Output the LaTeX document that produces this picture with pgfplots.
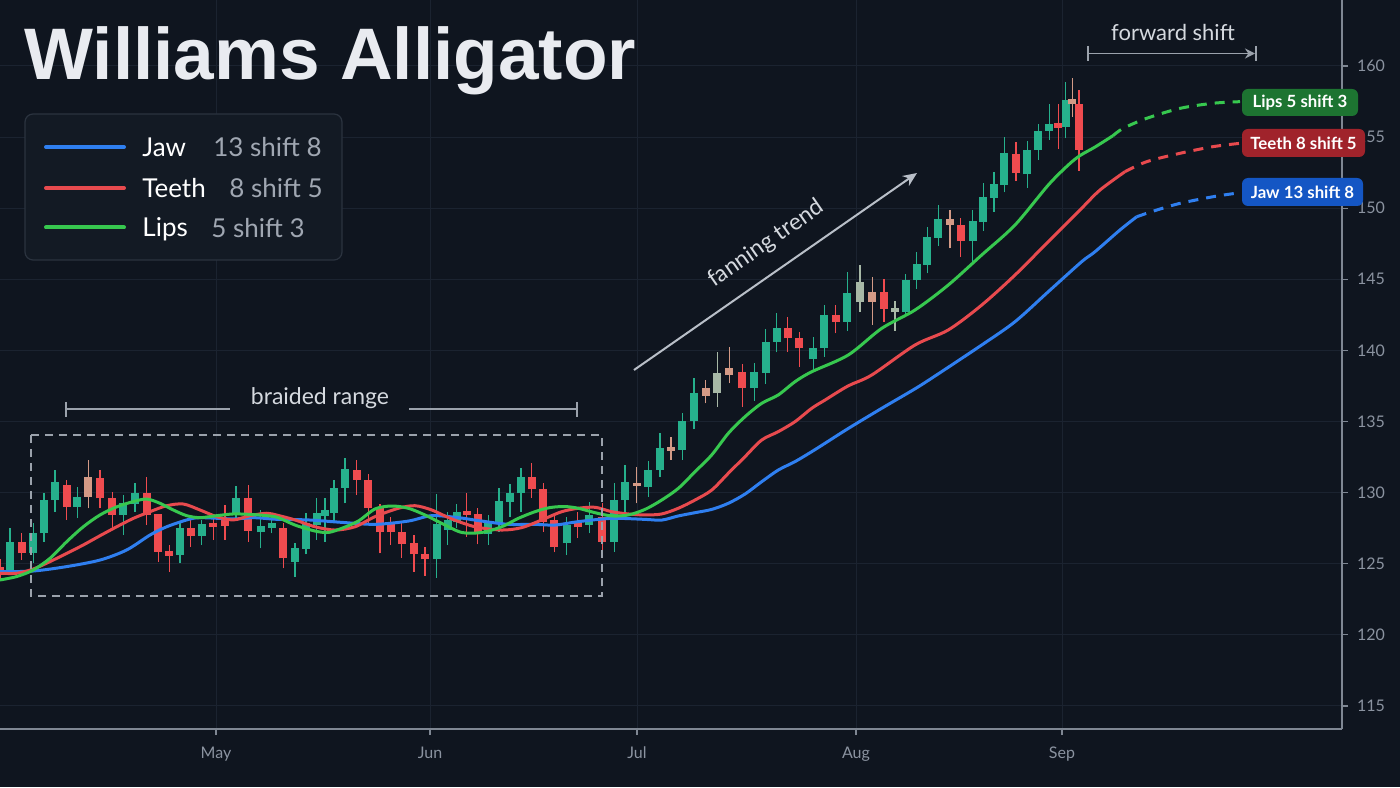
\documentclass[border=0pt]{standalone}
\usepackage{fontspec}
\setmainfont{Lato}
\newfontfamily\titlefont{Liberation Sans}
\usepackage{pgfplots}
\pgfplotsset{compat=1.18}
\usepackage{pgfplotstable}
\usetikzlibrary{arrows.meta}

\definecolor{bg}{HTML}{0F151F}
\definecolor{gridc}{HTML}{1B2330}
\definecolor{axc}{HTML}{7F8793}
\definecolor{tickc}{HTML}{8B93A0}
\definecolor{cgreen}{HTML}{26B08C}
\definecolor{cred}{HTML}{EF4B4F}
\definecolor{ctan}{HTML}{D49A86}
\definecolor{csage}{HTML}{A7B8A6}
\definecolor{jaw}{HTML}{2F7FF0}
\definecolor{teeth}{HTML}{E84A4E}
\definecolor{lips}{HTML}{37C84F}
\definecolor{titlec}{HTML}{E9EBF0}
\definecolor{legbg}{HTML}{131A24}
\definecolor{legbd}{HTML}{2B333F}
\definecolor{leggray}{HTML}{A0A7B2}
\definecolor{annc}{HTML}{9BA2AC}
\definecolor{anntext}{HTML}{D5D9DF}
\definecolor{arrowc}{HTML}{B9BFC8}
\definecolor{lipsbox}{HTML}{1D7431}
\definecolor{teethbox}{HTML}{A0232B}
\definecolor{jawbox}{HTML}{1456C4}

% candles: x (position) open high low close
\pgfplotstableread{
x o h l c
10 124.44 127.5 124.2 126.55
33.3 125.73 127.84 125.03 127.14
44 127.14 129.95 126.55 129.48
55 129.48 131.6 128.66 130.77
77.3 129.01 130.42 128.2 129.72
123.3 128.43 129.83 127.02 129.25
135 129.18 130.65 128.66 129.99
180 125.61 127.96 125.03 127.49
201.7 126.97 128.08 126.32 127.77
236 128.54 130.49 128.08 129.65
260.7 127.2 128.78 126.08 127.65
271.7 127.54 128.55 127.14 127.84
295 125.15 126.43 124.09 126.08
306 126.04 128.55 125.66 127.84
316.7 127.72 129.6 126.67 128.55
325 128.36 129.65 126.55 128.76
334 128.55 130.89 127.84 130.35
345 130.35 132.41 129.25 131.66
436.7 125.31 129.88 124.02 127.8
447.7 127.37 128.66 126.32 128.08
456.7 127.91 129.18 127.49 128.66
488.3 127.07 128.43 126.32 127.84
499 127.84 130.35 127.26 129.41
510 129.37 130.58 128.31 129.95
521 129.95 131.71 128.66 131.08
566.7 126.43 128.3 125.6 127.72
589.3 127.72 129.37 127.14 128.43
614.3 126.55 130.65 125.85 129.48
625 129.48 131.94 128.66 130.72
648.3 130.42 132.25 129.72 131.59
660 131.59 134.17 131.12 133.16
682.3 133.0 135.62 132.3 135.06
694 135.06 138.04 134.45 137.03
754.3 137.33 139.09 136.47 138.46
765.7 138.44 141.48 137.64 140.6
776.7 140.6 142.66 139.87 141.55
813.3 139.37 140.92 138.51 140.15
824.3 140.15 143.19 139.56 142.49
847.3 142.02 145.54 141.37 144.01
905.7 142.72 145.35 142.44 144.95
916.7 144.95 146.94 144.32 146.05
927.3 146.0 148.7 145.42 148.0
938.3 147.93 150.23 147.37 149.24
972.7 147.69 149.87 146.24 149.12
983.3 149.05 151.8 148.4 150.81
994 150.7 152.52 149.76 151.7
1004.3 151.63 154.98 151.12 153.86
1027.3 152.38 154.73 151.44 154.09
1038.3 154.09 155.9 153.39 155.43
1049.3 155.43 157.3 154.8 155.9
1065.7 155.73 158.9 154.91 157.61
}\greentab

\pgfplotstableread{
x o h l c
0 124.8 125.3 123.9 124.4
21.7 126.55 127.14 125.26 125.73
66.7 130.54 130.9 128.08 129.01
100 131.0 131.6 128.9 129.6
112.3 129.6 130.07 127.37 128.43
146.7 129.95 131.08 127.72 128.43
158.3 128.47 128.5 125.15 125.85
169.3 125.9 126.32 124.44 125.57
190.7 127.49 128.19 126.2 126.97
213.3 127.89 128.31 126.67 127.61
225 128.24 129.13 126.67 127.68
248.3 129.65 130.54 126.55 127.3
283.3 127.54 127.84 124.68 125.38
356.7 131.59 132.3 129.83 130.89
368.3 130.89 131.29 127.84 128.9
380 128.9 129.18 125.73 127.2
390.7 127.77 128.31 126.32 127.2
401.7 127.2 127.84 125.43 126.39
414 126.48 127.02 124.44 125.66
425 125.68 126.2 124.14 125.31
466.7 128.71 129.95 126.9 128.43
477.7 128.47 128.94 126.36 127.14
531.7 131.08 132.06 129.65 130.23
543.3 130.23 130.65 127.26 127.91
554.3 128.1 128.4 125.8 126.2
577.7 128.03 128.66 126.8 127.56
602.3 128.31 129.25 125.38 126.55
742.3 138.5 139.04 136.04 137.33
787.7 141.55 142.37 139.91 140.85
799.3 140.85 141.32 138.86 140.15
835.7 142.49 143.19 141.2 142.02
884 144.13 145.02 142.02 142.9
960.7 148.82 149.33 146.59 147.69
1016 153.81 154.68 151.91 152.5
1058.3 156.0 157.3 154.16 155.66
1079 157.3 158.31 152.62 154.09
}\redtab

\pgfplotstableread{
x o h l c
88.3 129.72 132.3 128.9 131.12
636.7 130.5 131.83 129.25 130.7
671 133.18 133.93 132.3 132.95
705.7 136.8 137.92 136.28 137.33
729.3 138.74 140.22 137.69 138.27
872.3 144.13 145.19 141.79 143.43
950 149.22 149.87 147.18 148.82
1072.3 157.68 159.13 156.44 157.3
}\tantab

\pgfplotstableread{
x o h l c
717.3 136.98 139.91 136.04 138.39
860 143.43 146.0 142.72 144.79
895 142.96 143.47 141.4 142.67
}\sagetab

\newcommand{\candles}[2]{%
  \addplot[draw=none, mark=none, forget plot,
    error bars/.cd, y dir=plus, y explicit, error mark=none,
    error bar style={draw=#2, line width=0.75pt, solid}]
    table[x=x, y=l, y error plus expr={\thisrow{h}-\thisrow{l}}] {#1};
  \addplot[draw=none, mark=none, forget plot,
    error bars/.cd, y dir=plus, y explicit, error mark=none,
    error bar style={draw=#2, line width=3.9pt, solid}]
    table[x=x, y expr={min(\thisrow{o},\thisrow{c})},
      y error plus expr={max(abs(\thisrow{c}-\thisrow{o}),0.15)}] {#1};
}

\begin{document}
\begin{tikzpicture}
\useasboundingbox (0,0) rectangle (700pt,393.5pt);
\fill[bg] (0,0) rectangle (700pt,393.5pt);

\begin{axis}[
  at={(0pt,29pt)}, anchor=south west,
  scale only axis, width=671pt, height=364.5pt,
  xmin=0, xmax=1342, ymin=113.38, ymax=164.64,
  axis x line*=bottom, axis y line*=right,
  axis line style={draw=axc, line width=0.7pt},
  xtick={216,430,637,856,1062}, xticklabels={May,Jun,Jul,Aug,Sep},
  ytick={115,120,...,160},
  tick align=outside, major tick length=3pt,
  tick style={draw=axc, line width=0.6pt},
  grid=major, grid style={draw=gridc, line width=0.5pt},
  tick label style={font=\fontsize{8}{9}\selectfont, text=tickc},
  yticklabel style={xshift=1pt},
  xticklabel style={yshift=-2.5pt},
  /pgf/number format/assume math mode=true,
  clip=true,
]
\candles{\greentab}{cgreen}
\candles{\redtab}{cred}
\candles{\tantab}{ctan}
\candles{\sagetab}{csage}

% Jaw (blue)
\addplot[jaw, line width=1.5pt, smooth] coordinates {
(0,124.44) (33.3,124.49) (66.7,124.8) (100,125.26) (126.7,125.97) (150,127.02)
(166.7,127.6) (186.7,128.08) (200,128.24) (233.3,128.15) (253.3,128.24) (278,128.12)
(308.3,128.08) (341.7,127.91) (375,127.77) (408.3,128.0) (431.7,128.38) (458.3,128.24)
(481.7,128.0) (508.3,127.77) (535,127.77) (555,127.72) (578.3,127.96) (611.7,128.19)
(645,128.12) (661.7,128.07) (678.3,128.36) (695,128.59) (711.7,128.82) (728.3,129.25)
(745,129.9) (761.7,130.77) (778.3,131.59) (795,132.18) (811.7,132.88) (825,133.47)
(848,134.5) (881,135.9) (915,137.3) (935,138.2) (981.7,140.38) (1015,142.02)
(1048.3,144.13) (1081.7,146.24) (1095,146.94) (1120,148.47) (1136.7,149.4)};
\addplot[jaw, line width=1.5pt, smooth, dash pattern=on 5pt off 4pt] coordinates {
(1136.7,149.4) (1156.7,149.87) (1180,150.34) (1213.3,150.81) (1240,151.09)};

% Teeth (red)
\addplot[teeth, line width=1.5pt, smooth] coordinates {
(0,124.33) (16.7,124.33) (33.3,124.63) (50,125.15) (66.7,125.73) (83.3,126.32)
(100,126.97) (116.7,127.6) (133.3,128.19) (150,128.66) (166.7,129.08) (183.3,129.2)
(200,128.78) (216.7,128.31) (233.3,128.08) (250,128.38) (266.7,128.55) (278,128.4)
(295,128.08) (315,127.6) (335,127.37) (355,127.6) (375,128.31) (398.3,128.9)
(415,129.08) (431.7,128.78) (451.7,128.15) (475,127.6) (501.7,127.37) (521.7,127.54)
(541.7,128.08) (561.7,128.66) (578.3,128.9) (595,128.97) (611.7,128.66) (628.3,128.5)
(645,128.43) (661.7,128.5) (678.3,128.9) (695,129.48) (711.7,130.18) (728.3,131.36)
(745,132.53) (761.7,133.7) (778.3,134.29) (795,134.99) (811.7,135.93) (825,136.51)
(848,137.5) (871.7,138.27) (915,140.38) (948.3,141.44) (981.7,143.19) (1015,145.3)
(1048.3,147.65) (1081.7,150.0) (1100,151.28) (1125,152.57)};
\addplot[teeth, line width=1.5pt, smooth, dash pattern=on 5pt off 4pt] coordinates {
(1125,152.57) (1146.7,153.27) (1180,153.86) (1213.3,154.33) (1240,154.56)};

% Lips (green)
\addplot[lips, line width=1.5pt, smooth] coordinates {
(0,123.86) (16.7,124.1) (33.3,124.56) (50,125.38) (66.7,126.55) (83.3,127.6)
(100,128.43) (116.7,129.0) (133.3,129.37) (146.7,129.55) (160,129.25) (173.3,128.78)
(186.7,128.38) (200,128.24) (216.7,128.38) (233.3,128.5) (250,128.47) (266.7,128.38)
(278,128.25) (295,127.72) (315,127.3) (328.3,127.2) (341.7,127.49) (358.3,128.0)
(375,128.85) (391.7,129.06) (408.3,128.9) (425,128.43) (441.7,127.84) (461.7,127.2)
(481.7,127.2) (501.7,127.6) (518.3,128.19) (535,128.66) (550,128.95) (565,129.02)
(578.3,128.9) (595,128.59) (611.7,128.36) (628.3,128.43) (645,128.82) (661.7,129.48)
(678.3,130.3) (695,131.47) (711.7,132.65) (728.3,134.17) (745,135.34) (761.7,136.28)
(778.3,136.87) (795,137.8) (811.7,138.5) (848.3,139.68) (881.7,141.55) (915,142.84)
(948.3,144.6) (981.7,146.71) (1015,148.82) (1048.3,151.63) (1068.3,153.04)
(1080,153.7) (1095,154.3) (1113,155.1)};
\addplot[lips, line width=1.5pt, smooth, dash pattern=on 5pt off 4pt] coordinates {
(1113,155.1) (1123.3,155.62) (1146.7,156.32) (1180,157.02) (1213.3,157.38) (1240,157.49)};
\end{axis}

\begin{scope}[x=0.5pt, y=-0.5pt, shift={(0pt,393.5pt)}]
  % title
  \node[anchor=base west, inner sep=0, text=titlec,
    font=\titlefont\bfseries\fontsize{36.5}{40}\selectfont] at (24,80) {Williams Alligator};
  % legend
  \draw[fill=legbg, draw=legbd, line width=0.6pt, rounded corners=4pt] (25,114) rectangle (342,260);
  \draw[jaw, line width=2pt, line cap=round] (46,147) -- (124,147);
  \draw[teeth, line width=2pt, line cap=round] (46,188) -- (124,188);
  \draw[lips, line width=2pt, line cap=round] (46,227.5) -- (124,227.5);
  \begin{scope}[every node/.style={inner sep=0, anchor=base west, font=\fontsize{13}{15}\selectfont}]
    \node[text=white] at (142,156.5) {Jaw};
    \node[text=leggray] at (213,157) {13 shift 8};
    \node[text=white] at (142,197.5) {Teeth};
    \node[text=leggray] at (229,198) {8 shift 5};
    \node[text=white] at (142,237) {Lips};
    \node[text=leggray] at (211,237.5) {5 shift 3};
  \end{scope}
  % braided range
  \draw[annc, line width=0.75pt, dash pattern=on 4pt off 3pt] (31,435) rectangle (602,596);
  \draw[annc, line width=0.75pt] (66,409) -- (230,409) (409,409) -- (577,409)
       (66,402) -- (66,417) (577,402) -- (577,417);
  \node[anchor=base, inner sep=0, text=anntext, font=\fontsize{11.5}{13}\selectfont] at (320,405) {braided range};
  % fanning trend
  \draw[arrowc, line width=1pt, -{Stealth[length=7pt, width=6pt]}] (634,370) -- (917,173);
  \node[rotate=34.8, inner sep=0, text=anntext, font=\fontsize{11.5}{13}\selectfont] at (766,244) {fanning trend};
  % forward shift
  \node[anchor=base, inner sep=0, text=anntext, font=\fontsize{11}{13}\selectfont] at (1173,41) {forward shift};
  \draw[annc, line width=0.75pt] (1088,46) -- (1088,61) (1256,46) -- (1256,61);
  \draw[annc, line width=0.75pt, -{Stealth[length=5pt, width=5pt]}] (1088,53.5) -- (1255,53.5);
  % right labels
  \fill[lipsbox, rounded corners=3pt] (1242,89) rectangle (1358,116);
  \fill[teethbox, rounded corners=3pt] (1242,129) rectangle (1365,157);
  \fill[jawbox, rounded corners=3pt] (1242,178) rectangle (1363,206);
  \begin{scope}[every node/.style={inner sep=0, text=white, font=\bfseries\fontsize{8.4}{10}\selectfont}]
    \node at (1300,102.5) {Lips 5 shift 3};
    \node at (1303.5,143) {Teeth 8 shift 5};
    \node at (1302.5,192) {Jaw 13 shift 8};
  \end{scope}
\end{scope}
\end{tikzpicture}
\end{document}
